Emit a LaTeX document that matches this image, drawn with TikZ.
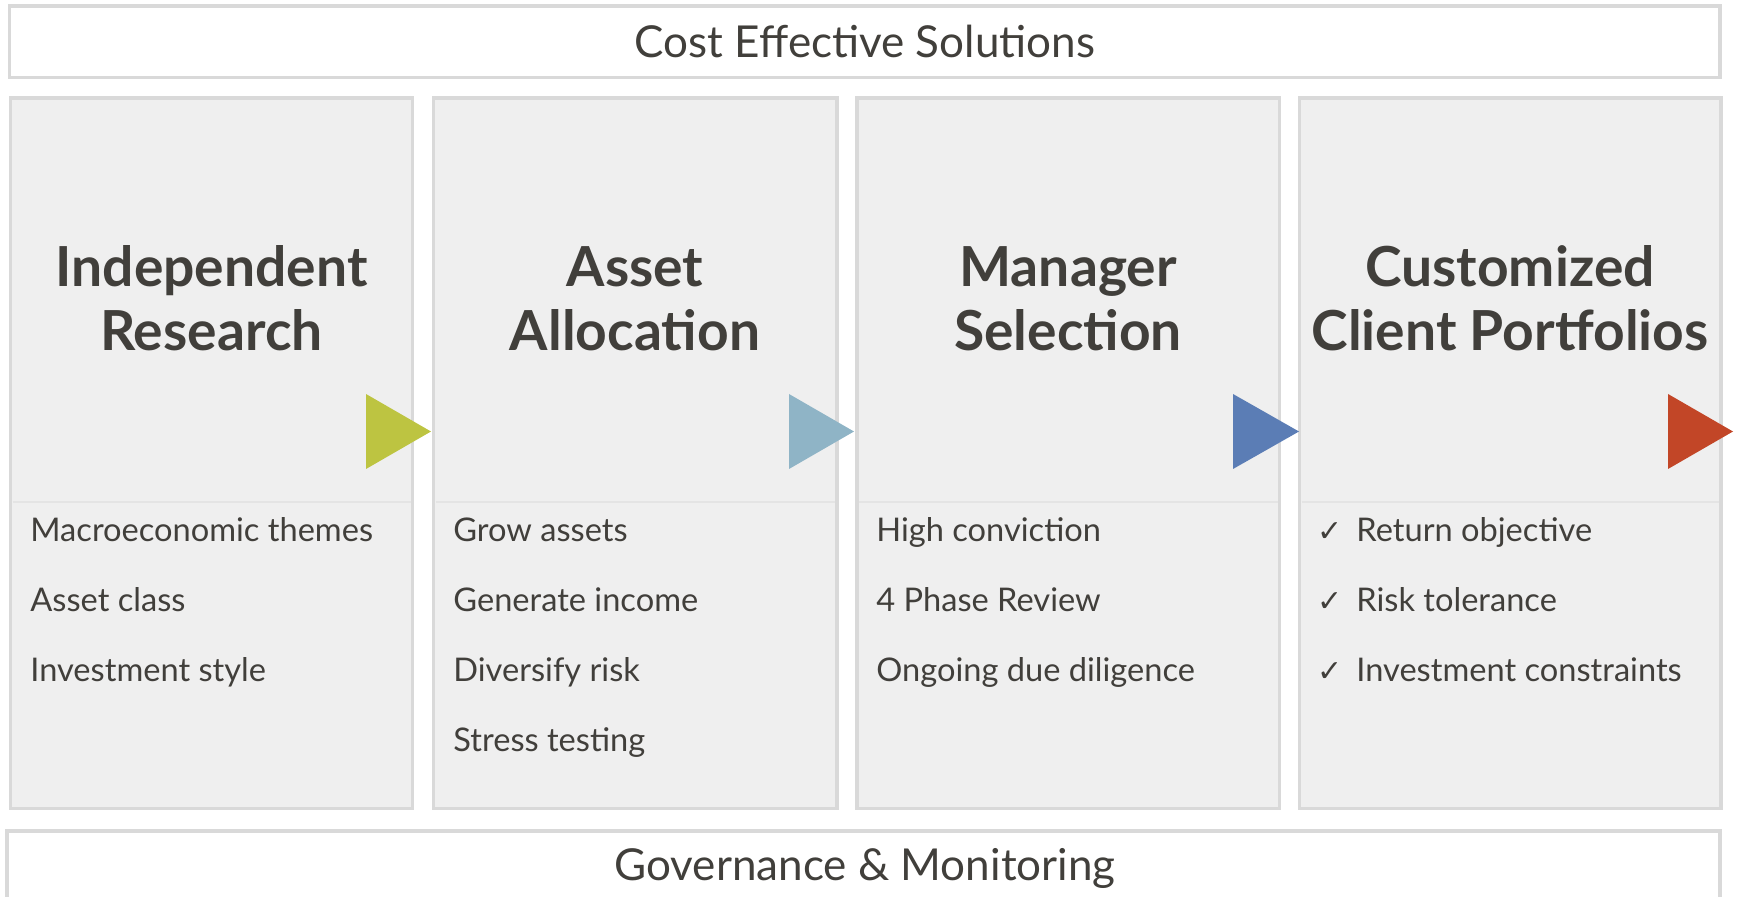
\documentclass[tikz,border=0pt]{standalone}
\usepackage{fontspec}
\setmainfont{Lato}
\newfontfamily\symfont{DejaVu Sans}
\definecolor{bord}{HTML}{D9D9D9}
\definecolor{pfill}{HTML}{EFEFEF}
\definecolor{sepc}{HTML}{E4E4E4}
\definecolor{txt}{HTML}{413F3B}
\definecolor{triA}{HTML}{BDC441}
\definecolor{triB}{HTML}{8FB4C6}
\definecolor{triC}{HTML}{5B7DB5}
\definecolor{triD}{HTML}{C24627}
\begin{document}
\begin{tikzpicture}[x=0.5pt,y=-0.5pt,
  bandbox/.style={draw=bord, line width=1.6pt, fill=white, inner sep=0pt, outer sep=0pt, anchor=north west},
  panelbox/.style={draw=bord, line width=1.6pt, fill=pfill, inner sep=0pt, outer sep=0pt, anchor=north west, minimum height=355.25pt},
  sepline/.style={draw=sepc, line width=0.6pt},
  titletext/.style={anchor=base, text=txt, font=\bfseries\fontsize{27.6}{32}\selectfont, inner sep=0pt},
  itemtext/.style={anchor=base west, text=txt, font=\fontsize{16.3}{19}\selectfont, inner sep=0pt},
  bandtext/.style={anchor=base, text=txt, font=\fontsize{22}{26}\selectfont, inner sep=0pt},
  checktext/.style={anchor=base west, text=txt, font=\symfont\fontsize{15}{17}\selectfont, inner sep=0pt}]
\useasboundingbox (0,0) rectangle (1737,897);
% bands
\node[bandbox, minimum width=855.25pt, minimum height=35.75pt] (top) at (9.5,6) {};
\node[bandbox, minimum width=856.5pt, minimum height=60pt] (bot) at (7,831) {};
\node[bandtext] (topt) at (865,58) {Cost Effective Solutions};
\node[bandtext] (bott) at (865,881) {Governance \& Monitoring};
% panels
\node[panelbox, minimum width=201pt] (p1) at (10.5,98) {};
\node[panelbox, minimum width=201.75pt] (p2) at (433.5,98) {};
\node[panelbox, minimum width=211.25pt] (p3) at (857,98) {};
\node[panelbox, minimum width=210.75pt] (p4) at (1299.5,98) {};
% separators
\draw[sepline] (12.5,502) -- (410.5,502);
\draw[sepline] (435.5,502) -- (835,502);
\draw[sepline] (859,502) -- (1277.5,502);
\draw[sepline] (1301.5,502) -- (1719,502);
% triangles
\fill[triA] (366,394) -- (431,431.5) -- (366,469) -- cycle;
\fill[triB] (789,394) -- (854,431.5) -- (789,469) -- cycle;
\fill[triC] (1233,394) -- (1299,431.5) -- (1233,469) -- cycle;
\fill[triD] (1668,394) -- (1733,431.5) -- (1668,469) -- cycle;
% titles
\node[titletext] (t1a) at (211.5,287) {Independent};
\node[titletext] (t1b) at (211.5,351) {Research};
\node[titletext] (t2a) at (635,287) {Asset};
\node[titletext] (t2b) at (635,351) {Allocation};
\node[titletext] (t3a) at (1068,287) {Manager};
\node[titletext] (t3b) at (1068,351) {Selection};
\node[titletext] (t4a) at (1510,287) {Customized};
\node[titletext] (t4b) at (1510,351) {Client Portfolios};
% items
\node[itemtext] (i1a) at (30,542) {Macroeconomic themes};
\node[itemtext] (i1b) at (30,612) {Asset class};
\node[itemtext] (i1c) at (30,682) {Investment style};
\node[itemtext] (i2a) at (453,542) {Grow assets};
\node[itemtext] (i2b) at (453,612) {Generate income};
\node[itemtext] (i2c) at (453,682) {Diversify risk};
\node[itemtext] (i2d) at (453,752) {Stress testing};
\node[itemtext] (i3a) at (876,542) {High conviction};
\node[itemtext] (i3b) at (876,612) {4 Phase Review};
\node[itemtext] (i3c) at (876,682) {Ongoing due diligence};
\node[checktext] (c4a) at (1317,542) {✓};
\node[checktext] (c4b) at (1317,612) {✓};
\node[checktext] (c4c) at (1317,682) {✓};
\node[itemtext] (i4a) at (1356,542) {Return objective};
\node[itemtext] (i4b) at (1356,612) {Risk tolerance};
\node[itemtext] (i4c) at (1356,682) {Investment constraints};
\end{tikzpicture}
\end{document}
